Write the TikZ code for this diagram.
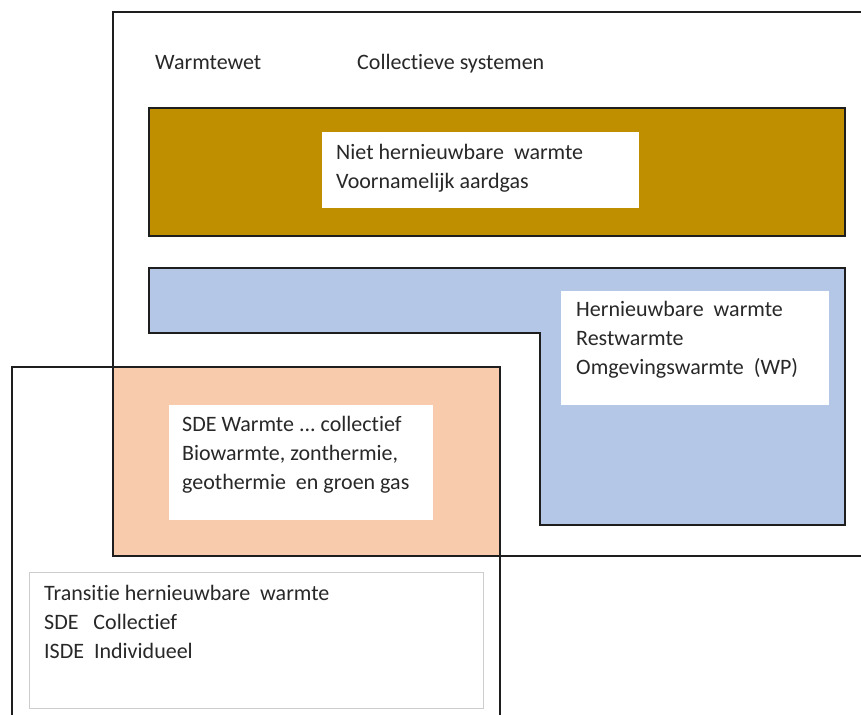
\documentclass[tikz,border=0pt]{standalone}
\usepackage{fontspec}
\setmainfont[Ligatures=NoCommon]{Carlito}
\frenchspacing
\definecolor{goldfill}{RGB}{192,143,0}
\definecolor{bluefill}{RGB}{180,199,231}
\definecolor{orangefill}{RGB}{248,203,173}
\definecolor{txt}{RGB}{40,40,40}
\definecolor{edge}{RGB}{30,30,30}
\begin{document}
\begin{tikzpicture}[x=1pt,y=-1pt,
  frame/.style={draw=edge,line width=1.6pt},
  whitebox/.style={fill=white,draw=none,inner sep=0pt,anchor=north west},
  label/.style={font=\fontsize{22}{29}\selectfont,text=txt,align=left,inner sep=0pt,anchor=north west},
  title/.style={font=\fontsize{22}{26}\selectfont,text=txt,inner sep=0pt,anchor=base west}]
\useasboundingbox (0,0) rectangle (861,714);
\fill[white] (0,0) rectangle (861,714);
\clip (0,0) rectangle (861,714);
% outer collective frame (Warmtewet)
\draw[frame] (880,12) -- (113,12) -- (113,556) -- (880,556);
% gold box
\draw[frame,fill=goldfill] (149,108) rectangle (845,236);
\node[whitebox,minimum width=317pt,minimum height=76pt] (nbox) at (322,132) {};
\node[label] (nbtext) at (336,144) {Niet hernieuwbare\ \ warmte\\Voornamelijk aardgas};
% blue L shape
\draw[frame,fill=bluefill] (149,268) -- (845,268) -- (845,525) -- (540,525) -- (540,333) -- (149,333) -- cycle;
\node[whitebox,minimum width=268pt,minimum height=114pt] (hbox) at (561,291) {};
\node[label] (htext) at (576,301) {Hernieuwbare\ \ warmte\\Restwarmte\\Omgevingswarmte\ \ (WP)};
% orange box
\fill[orangefill] (113,367) rectangle (500,556);
\node[whitebox,minimum width=264pt,minimum height=115pt] (sbox) at (169,405) {};
\node[label] (stext) at (182,416) {SDE Warmte ... collectief\\Biowarmte, zonthermie,\\geothermie\ \ en groen gas};
% individual frame
\draw[frame] (12,730) -- (12,367) -- (500,367) -- (500,730);
\draw[frame] (113,367) -- (113,556) -- (500,556);
% bottom text box
\node[draw={rgb,255:red,205;green,205;blue,205},line width=0.8pt,fill=white,inner sep=0pt,anchor=north west,minimum width=454pt,minimum height=136pt] (tbox) at (29,572) {};
\node[label] (ttext) at (44,585) {Transitie hernieuwbare\ \ warmte\\SDE\ \ \ Collectief\\ISDE\ \ Individueel};
% titles
\node[title] (wtw) at (155,70) {Warmtewet};
\node[title] (cs) at (357,70) {Collectieve systemen};
\end{tikzpicture}
\end{document}
